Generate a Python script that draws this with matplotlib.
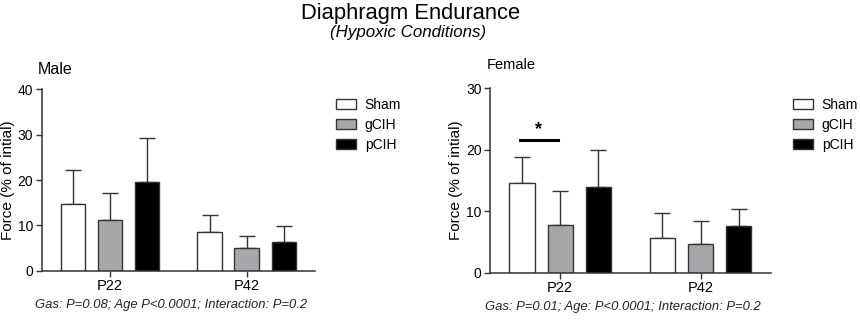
import numpy as np
import matplotlib
matplotlib.use("Agg")
import matplotlib.pyplot as plt

plt.rcParams['font.family'] = ['Liberation Sans', 'DejaVu Sans']

groups = ["P22", "P42"]
treatments = ["Sham", "gCIH", "pCIH"]
colors = ["white", "#a7a7a9", "black"]

male_mean = {"Sham": [14.7, 8.5], "gCIH": [11.2, 5.1], "pCIH": [19.6, 6.3]}
male_err = {"Sham": [7.5, 3.8], "gCIH": [5.9, 2.6], "pCIH": [9.7, 3.6]}
female_mean = {"Sham": [14.5, 5.7], "gCIH": [7.8, 4.6], "pCIH": [13.9, 7.6]}
female_err = {"Sham": [4.3, 4.0], "gCIH": [5.4, 3.8], "pCIH": [6.0, 2.7]}

male_note = "Gas: P=0.08; Age P<0.0001; Interaction: P=0.2"
female_note = "Gas: P=0.01; Age: P<0.0001; Interaction: P=0.2"

edge = "#333333"
fig = plt.figure(figsize=(8.6, 3.2), dpi=100)


def panel(rect, means, errs, ymax, title, title_size, title_xy, note, note_xy, leg_xy):
    ax = fig.add_axes(rect)
    x = np.arange(len(groups))
    offs = [-0.272, 0, 0.272]
    for i, t in enumerate(treatments):
        ax.bar(x + offs[i], means[t], width=0.18, color=colors[i],
               edgecolor=edge, linewidth=1.0, label=t, zorder=2)
        ax.errorbar(x + offs[i], means[t], yerr=[np.zeros(2), errs[t]],
                    fmt="none", ecolor=edge, elinewidth=1.0, capsize=5.5,
                    capthick=1.0, zorder=1)
    ax.set_xlim(-0.5, 1.5)
    ax.set_ylim(0, ymax)
    ax.set_yticks(np.arange(0, ymax + 1, 10))
    ax.set_xticks(x)
    ax.set_xticklabels(groups)
    for s in ["top", "right"]:
        ax.spines[s].set_visible(False)
    for s in ["left", "bottom"]:
        ax.spines[s].set_linewidth(1.1)
        ax.spines[s].set_color(edge)
    ax.tick_params(axis="both", direction="out", length=4, width=1.0,
                   color=edge, labelsize=10, pad=2)
    ax.tick_params(axis="x", labelsize=10.5)
    ax.set_ylabel("Force (% of intial)", fontsize=11, labelpad=2)
    fig.text(title_xy[0] / 860, 1 - title_xy[1] / 320, title, fontsize=title_size,
             ha="left", va="center")
    fig.text(note_xy[0] / 860, 1 - note_xy[1] / 320, note, fontsize=9.4,
             style="italic", ha="center", va="center", color="#222222")
    ax.legend(loc="upper left", bbox_to_anchor=(leg_xy[0] / 860, 1 - leg_xy[1] / 320),
              bbox_transform=fig.transFigure, frameon=False, fontsize=10,
              handlelength=1.5, handleheight=0.75, labelspacing=0.45,
              handletextpad=0.6, borderaxespad=0)
    return ax


male_ax = panel([41.7 / 860, 49.3 / 320, 273.3 / 860, 181.4 / 320],
                male_mean, male_err, 40, "Male", 11.5, (38, 70),
                male_note, (171, 305), (330, 92))
female_ax = panel([490 / 860, 47.3 / 320, 280.7 / 860, 184.7 / 320],
                  female_mean, female_err, 30, "Female", 10.5, (487, 65),
                  female_note, (623, 307), (787, 92))

# significance marker between Sham and gCIH at P22
female_ax.plot([-0.284, -0.018], [21.6, 21.6], color="black", lw=2.2)
female_ax.text(-0.151, 21.9, "*", ha="center", va="bottom", fontsize=13,
               fontweight="bold")

fig.text(411 / 860, 1 - 14 / 320, "Diaphragm Endurance", fontsize=15.8,
         ha="center", va="center")
fig.text(408 / 860, 1 - 33 / 320, "(Hypoxic Conditions)", fontsize=12.2,
         style="italic", ha="center", va="center")

plt.savefig("out.png", dpi=100)
